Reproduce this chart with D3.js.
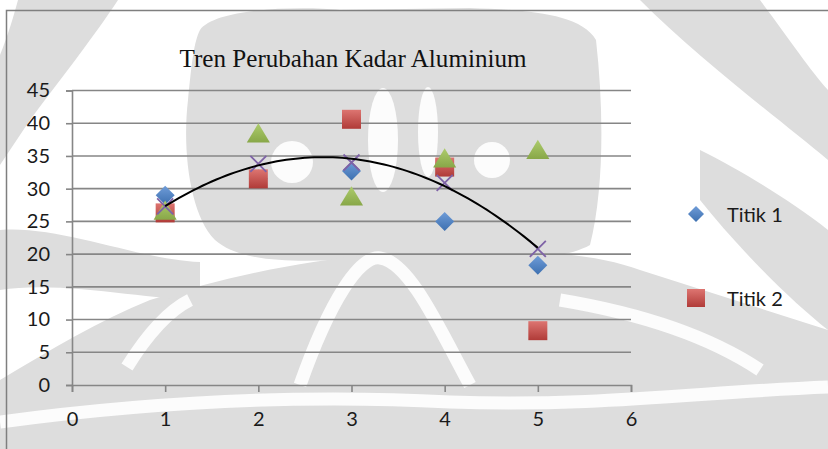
<!DOCTYPE html>
<html>
<head>
<meta charset="utf-8">
<script src="https://cdn.jsdelivr.net/npm/d3@7/dist/d3.min.js"></script>
<style>
  html, body { margin: 0; padding: 0; background: #fff; }
  svg { display: block; }
</style>
</head>
<body>
<svg id="chart" width="828" height="449"></svg>
<script>
// Sampling points along the x axis
const titik = [1, 2, 3, 4, 5];

// Aluminium content per sampling run
const titik1 = [29.0, 31.5, 32.7, 25.0, 18.3];
const titik2 = [26.3, 31.5, 40.6, 33.3, 8.3];
const titik3 = [26.5, 38.3, 28.7, 34.5, 35.8];
const rataRata = [27.3, 33.8, 34.0, 30.9, 20.8];

const xTicks = [0, 1, 2, 3, 4, 5, 6];
const yTicks = [0, 5, 10, 15, 20, 25, 30, 35, 40, 45];
const legendLabels = ["Titik 1", "Titik 2"];
const chartTitle = "Tren Perubahan Kadar Aluminium";

const svg = d3.select("#chart");

// faint page watermark behind the chart
const wmGray = "#dddddd", wmWhite = "#fcfcfc";
const wm = svg.append("g").attr("fill", wmGray);
wm.append("path").attr("d", "M18,0 L118,0 C95,35 60,80 30,120 C20,135 10,150 0,165 L0,55 C8,35 14,15 18,0 Z");
wm.append("path").attr("d", "M200,30 C215,8 300,6 340,10 L470,8 C520,10 580,12 596,40 C604,110 604,190 590,245 C560,262 490,262 470,250 L340,260 C290,262 240,262 215,240 C190,215 182,150 188,100 C192,60 194,42 200,30 Z");
wm.append("path").attr("d", "M640,0 L760,0 C790,40 810,70 828,90 L828,160 C780,120 700,60 640,0 Z");
wm.append("path").attr("d", "M700,150 C740,170 790,200 828,230 L828,330 C790,300 740,250 700,200 Z");
wm.append("path").attr("d", "M150,300 C250,270 350,250 470,250 C540,250 600,255 640,270 L828,330 L828,449 L0,449 L0,380 C50,350 100,320 150,300 Z");
wm.append("path").attr("d", "M0,230 C60,225 140,260 200,262 L200,300 C150,300 60,280 0,290 Z");
const wmHoles = svg.append("g").attr("fill", wmWhite);
wmHoles.append("circle").attr("cx", 292).attr("cy", 162).attr("r", 21);
wmHoles.append("circle").attr("cx", 492).attr("cy", 160).attr("r", 18);
wmHoles.append("ellipse").attr("cx", 383).attr("cy", 140).attr("rx", 15).attr("ry", 52);
wmHoles.append("ellipse").attr("cx", 428).attr("cy", 132).attr("rx", 10).attr("ry", 45);
const wmStripes = svg.append("g").attr("fill", "none").attr("stroke", wmWhite).attr("stroke-width", 13);
wmStripes.append("path").attr("d", "M300,385 C330,300 360,255 380,258 C410,262 440,330 470,385");
wmStripes.append("path").attr("d", "M0,422 C150,402 300,394 450,402 C600,407 700,392 828,387");
wmStripes.append("path").attr("d", "M560,300 C620,310 700,330 760,370");
wmStripes.append("path").attr("d", "M127,367 C150,330 170,310 190,300");

// chart frame (top and left edges)
svg.append("path")
  .attr("d", "M6.5,449 L6.5,10.5 L828,10.5")
  .attr("fill", "none").attr("stroke", "#7f7f7f").attr("stroke-width", 1.5);

const x = d3.scaleLinear().domain([0, 6]).range([72, 631]);
const y = d3.scaleLinear().domain([0, 45]).range([385, 90.5]);

const labelFont = "Lato, 'Open Sans', sans-serif";
const gridColor = "#868686";

// horizontal gridlines
svg.append("g").selectAll("line").data(yTicks.filter(d => d > 0)).join("line")
  .attr("x1", x(0)).attr("x2", x(6))
  .attr("y1", d => y(d)).attr("y2", d => y(d))
  .attr("stroke", gridColor).attr("stroke-width", 1.6);

// y axis
const yAxis = svg.append("g")
  .attr("transform", `translate(${x(0)},0)`)
  .call(d3.axisLeft(y).tickValues(yTicks).tickSize(6).tickPadding(16).tickFormat(d3.format("d")));
yAxis.select(".domain").attr("stroke", gridColor).attr("stroke-width", 1.6);
yAxis.selectAll(".tick line").attr("stroke", gridColor).attr("stroke-width", 1.6);
yAxis.selectAll("text").attr("font-family", labelFont).attr("font-size", 20).attr("fill", "#1a1a1a");

// x axis
const xAxis = svg.append("g")
  .attr("transform", `translate(0,${y(0)})`)
  .call(d3.axisBottom(x).tickValues(xTicks).tickSize(7).tickPadding(30).tickFormat(d3.format("d")));
xAxis.select(".domain").attr("stroke", gridColor).attr("stroke-width", 1.6);
xAxis.selectAll(".tick line").attr("stroke", gridColor).attr("stroke-width", 1.6);
xAxis.selectAll("text").attr("font-family", labelFont).attr("font-size", 20).attr("fill", "#1a1a1a")
  .attr("dy", "0.2em");

// title
svg.append("text")
  .attr("x", 353).attr("y", 67)
  .attr("text-anchor", "middle")
  .attr("font-family", "'Liberation Serif', 'Times New Roman', serif")
  .attr("font-size", 25)
  .attr("textLength", 347).attr("lengthAdjust", "spacingAndGlyphs")
  .attr("fill", "#111")
  .text(chartTitle);

// marker gradients
const defs = svg.append("defs");
function grad(id, top, bottom) {
  const g = defs.append("linearGradient").attr("id", id)
    .attr("x1", 0).attr("y1", 0).attr("x2", 0).attr("y2", 1);
  g.append("stop").attr("offset", "0%").attr("stop-color", top);
  g.append("stop").attr("offset", "100%").attr("stop-color", bottom);
}
grad("gBlue", "#6f9cd8", "#3d70b0");
grad("gRed", "#dd7571", "#b03b38");
grad("gGreen", "#adcc6c", "#88a748");

const diamond = s => `M0,${-s} L${s},0 L0,${s} L${-s},0 Z`;
const square = s => `M${-s},${-s} H${s} V${s} H${-s} Z`;
const triangle = s => `M0,${-s} L${s * 1.05},${s * 0.75} L${-s * 1.05},${s * 0.75} Z`;

function plotSeries(vals, path, fill) {
  svg.append("g").selectAll("path").data(vals).join("path")
    .attr("transform", (d, i) => `translate(${x(titik[i])},${y(d)})`)
    .attr("d", path)
    .attr("fill", fill);
}
plotSeries(titik1, diamond(9.5), "url(#gBlue)");
plotSeries(titik2, square(9.5), "url(#gRed)");
plotSeries(titik3, triangle(11), "url(#gGreen)");

// average series drawn as X marks
svg.append("g").selectAll("path").data(rataRata).join("path")
  .attr("transform", (d, i) => `translate(${x(titik[i])},${y(d)})`)
  .attr("d", "M-8,-8 L8,8 M8,-8 L-8,8")
  .attr("stroke", "#7e62a6").attr("stroke-width", 1.8).attr("fill", "none");

// second-order polynomial trendline fitted to the average series
function polyFit2(xs, ys) {
  const s = [0, 0, 0, 0, 0], t = [0, 0, 0];
  xs.forEach((xv, i) => {
    for (let k = 0; k < 5; k++) s[k] += Math.pow(xv, k);
    for (let k = 0; k < 3; k++) t[k] += ys[i] * Math.pow(xv, k);
  });
  const A = [[s[0], s[1], s[2], t[0]], [s[1], s[2], s[3], t[1]], [s[2], s[3], s[4], t[2]]];
  for (let i = 0; i < 3; i++) {
    for (let j = i + 1; j < 3; j++) {
      const f = A[j][i] / A[i][i];
      for (let k = i; k < 4; k++) A[j][k] -= f * A[i][k];
    }
  }
  const c = [0, 0, 0];
  for (let i = 2; i >= 0; i--) {
    let v = A[i][3];
    for (let k = i + 1; k < 3; k++) v -= A[i][k] * c[k];
    c[i] = v / A[i][i];
  }
  return xv => c[0] + c[1] * xv + c[2] * xv * xv;
}
const trend = polyFit2(titik, rataRata);
const trendPts = d3.range(1, 5.001, 0.05).map(v => [v, trend(v)]);
svg.append("path")
  .datum(trendPts)
  .attr("d", d3.line().x(d => x(d[0])).y(d => y(d[1])).curve(d3.curveBasis))
  .attr("fill", "none").attr("stroke", "#000").attr("stroke-width", 2);

// legend
const legend = svg.append("g");
const legendMarks = [diamond(8), square(9)];
const legendFills = ["url(#gBlue)", "url(#gRed)"];
legendLabels.forEach((lab, i) => {
  const ly = 214 + i * 84;
  legend.append("path").attr("transform", `translate(696,${ly})`)
    .attr("d", legendMarks[i]).attr("fill", legendFills[i]);
  legend.append("text").attr("x", 727).attr("y", ly + 8)
    .attr("font-family", labelFont).attr("font-size", 20).attr("fill", "#1a1a1a")
    .text(lab);
});
</script>
</body>
</html>
